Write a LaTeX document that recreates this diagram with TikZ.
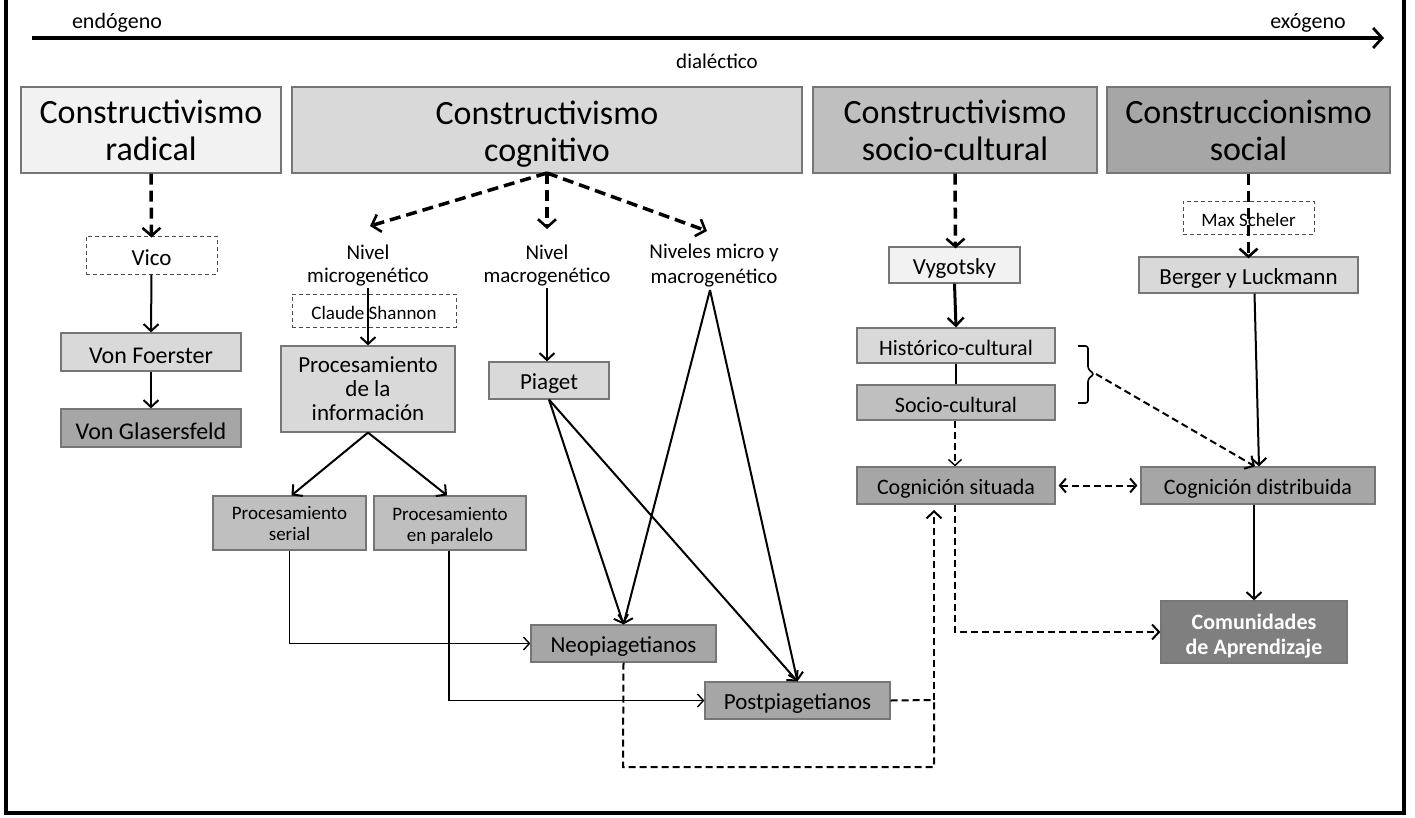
\documentclass[tikz,border=0pt]{standalone}
\usepackage{fontspec}
\setmainfont{Carlito}
\usetikzlibrary{arrows.meta}

\definecolor{fillA}{HTML}{F2F2F2}
\definecolor{fillB}{HTML}{D9D9D9}
\definecolor{fillC}{HTML}{BFBFBF}
\definecolor{fillD}{HTML}{A6A6A6}
\definecolor{fillE}{HTML}{7F7F7F}
\definecolor{edgegray}{HTML}{767676}

\newcommand{\fs}[2]{\fontsize{#1}{#2}\selectfont}
% invisible rule that centres a line optically on its letters
\newcommand{\vstr}{\vrule width 0pt height 0.96em depth 0.04em\relax}
\newcommand{\brk}{\\\vstr}

\tikzset{
  box/.style={draw=edgegray, line width=1.2pt, inner sep=0pt, align=center, text=black, execute at begin node=\vstr},
  ghost/.style={draw=black!70, line width=0.9pt, dash pattern=on 4pt off 3pt, inner sep=0pt, align=center, execute at begin node=\vstr},
  plain/.style={inner sep=0pt, align=center, execute at begin node=\vstr},
  inner/.style={inner sep=0pt, align=center, execute at begin node=\vstr},
  tip/.style={-{Straight Barb[length=7pt,width=15pt,line width=2pt]}},
  tipthin/.style={-{Straight Barb[length=6pt,width=13pt,line width=1.4pt]}},
  bigdash/.style={line width=3.5pt, dash pattern=on 11pt off 6pt, -{Straight Barb[length=8pt,width=18pt,line width=2.6pt]}},
  meddash/.style={line width=2pt, dash pattern=on 7pt off 4pt},
  solidarr/.style={line width=2pt, tip},
  thinarr/.style={line width=1.5pt, tipthin},
  head/.style={box, minimum height=86pt},
}

\begin{document}
\begin{tikzpicture}[x=1pt,y=-1pt]
\useasboundingbox (0,0) rectangle (1415,817);

% outer frame
\draw[line width=4pt] (6,-4) -- (6,813) -- (1404,813) -- (1404,-4);

% endogenous / exogenous axis
\node[plain, font=\fs{22}{24}] (endo) at (117,19.5) {endógeno};
\node[plain, font=\fs{22}{24}] (exo) at (1308,19.5) {exógeno};
\node[plain, font=\fs{21}{24}] (dial) at (717,58.5) {dialéctico};
\coordinate (axL) at (32,38);
\coordinate (axR) at (1384,38);
\draw[line width=3.5pt, -{Straight Barb[length=9pt,width=20pt,line width=2.8pt]}] (axL) -- (axR);

% four paradigms
\node[head, fill=fillA, minimum width=260pt, label={[inner, font=\fs{34}{37}, yshift=-1pt]center:{Constructivismo\brk radical\vstr}}] (rad) at (151,130) {};
\node[head, fill=fillB, minimum width=510pt, label={[inner, font=\fs{34}{37}, yshift=-4.5pt]center:{Constructivismo\brk cognitivo\vstr}}] (cog) at (547,130) {};
\node[head, fill=fillC, minimum width=284pt, label={[inner, font=\fs{34}{37}, yshift=-1pt]center:{Constructivismo\brk socio-cultural\vstr}}] (soc) at (955,130) {};
\node[head, fill=fillD, minimum width=283pt, label={[inner, font=\fs{34}{37}, yshift=-1pt]center:{Construccionismo\brk social\vstr}}] (cons) at (1248.5,130) {};

% radical column
\node[ghost, minimum width=131pt, minimum height=38pt, font=\fs{23}{25}] (vico) at (151.5,255) {Vico};
\node[box, fill=fillB, minimum width=180pt, minimum height=38pt, font=\fs{24}{26}] (foer) at (151,352) {Von Foerster};
\node[box, fill=fillD, minimum width=180pt, minimum height=38pt, font=\fs{24}{26}] (glas) at (151,428) {Von Glasersfeld};

% cognitive column
\node[plain, font=\fs{21}{23}] (micro) at (368,265.5) {Nivel\brk microgenético};
\node[plain, font=\fs{21}{23}] (macro) at (547,265.5) {Nivel\brk macrogenético};
\node[plain, font=\fs{21}{23}] (ambos) at (714,265.5) {Niveles micro y\brk macrogenético};
\node[ghost, minimum width=164pt, minimum height=33pt, font=\fs{19}{21}] (shannon) at (374,310.5) {Claude Shannon};
\node[box, fill=fillB, minimum width=174pt, minimum height=86pt, font=\fs{23}{24}] (pinfo) at (368,389) {Procesamiento\brk de la\brk información};
\node[box, fill=fillB, minimum width=120pt, minimum height=37pt, font=\fs{23}{25}] (piaget) at (549,380.5) {Piaget};
\node[box, fill=fillC, minimum width=153pt, minimum height=54pt, label={[inner, font=\fs{19}{21}, yshift=-1pt]center:{Procesamiento\brk serial\vstr}}] (serial) at (289.5,523) {};
\node[box, fill=fillC, minimum width=152pt, minimum height=54pt, label={[inner, font=\fs{19}{21}, yshift=-3pt]center:{Procesamiento\brk en paralelo\vstr}}] (paral) at (450,523) {};
\node[box, fill=fillD, minimum width=185pt, minimum height=37pt, font=\fs{23}{25}] (neo) at (623.5,643.5) {Neopiagetianos};
\node[box, fill=fillD, minimum width=185pt, minimum height=37pt, font=\fs{23}{25}] (post) at (797.5,700.5) {Postpiagetianos};

% socio-cultural column
\node[box, fill=fillA, minimum width=131pt, minimum height=36pt, font=\fs{23}{25}] (vyg) at (954.5,265) {Vygotsky};
\node[box, fill=fillB, minimum width=198pt, minimum height=35pt, font=\fs{22}{24}] (hist) at (956,345.5) {Histórico-cultural};
\node[box, fill=fillC, minimum width=198pt, minimum height=35pt, font=\fs{22}{24}] (sc) at (956,402.5) {Socio-cultural};
\node[box, fill=fillD, minimum width=198pt, minimum height=37pt, font=\fs{22}{24}] (sit) at (956,485.5) {Cognición situada};

% social constructionism column
\node[box, fill=fillB, minimum width=219pt, minimum height=36pt, font=\fs{23}{25}] (berger) at (1248.5,275) {Berger y Luckmann};
\node[box, fill=fillD, minimum width=234pt, minimum height=37pt, font=\fs{22}{24}] (dist) at (1258,485.5) {Cognición distribuida};
\node[box, fill=fillE, minimum width=186pt, minimum height=62pt, label={[inner, font=\bfseries\fs{22}{25}, text=white, yshift=-4.5pt]center:{Comunidades\brk de Aprendizaje\vstr}}] (comu) at (1254,632) {};

% helper points
\coordinate (cogS) at (547,173);
\coordinate (microTip) at (370,226);
\coordinate (macroTip) at (547,229);
\coordinate (ambosTip) at (707,231);
\coordinate (microFoot) at (368,288);
\coordinate (macroFoot) at (547,288);
\coordinate (ambosFoot) at (710,290);
\coordinate (neoLow) at (623,767);
\coordinate (joinLow) at (934,767);
\coordinate (postJoin) at (934,700);
\coordinate (sitUp) at (934,510);
\coordinate (braceTip) at (1096,374);

% thick dashed descents from the paradigms
\draw[bigdash] (rad.south) -- ([yshift=-2pt]vico.north);
\draw[bigdash] (cogS) -- (microTip);
\draw[bigdash] (cogS) -- (macroTip);
\draw[bigdash] (cogS) -- (ambosTip);
\draw[bigdash] (soc.south) -- ([xshift=1pt,yshift=-2pt]vyg.north);

% Max Scheler sits over the social-constructionism descent
\node[ghost, minimum width=131pt, minimum height=33pt, font=\fs{19}{21}] (scheler) at (1248.5,217.5) {Max Scheler};
\draw[bigdash] (cons.south) -- ([yshift=-2pt]berger.north);

% solid links
\draw[solidarr] (vico.south) -- (foer.north);
\draw[solidarr] (foer.south) -- (glas.north);
\draw[solidarr] (microFoot) -- (pinfo.north);
\draw[solidarr] (macroFoot) -- ([xshift=-2pt]piaget.north);
\draw[solidarr] (pinfo.south) -- ([xshift=2pt]serial.north);
\draw[solidarr] (pinfo.south) -- ([xshift=-3pt]paral.north);
\draw[solidarr] (piaget.south) -- (neo.north);
\draw[solidarr] (piaget.south) -- (post.north);
\draw[solidarr] (ambosFoot) -- (neo.north);
\draw[solidarr] (ambosFoot) -- (post.north);
\draw[thinarr] (serial.south) |- (neo.west);
\draw[thinarr] ([xshift=-1pt]paral.south) |- (post.west);

% Vygotsky chain
\draw[line width=3pt, -{Straight Barb[length=8pt,width=16pt,line width=2.4pt]}] (vyg.south) -- (hist.north);
\draw[line width=1.5pt] (hist.south) -- (sc.north);
\draw[meddash, line width=1.6pt, tipthin] ([xshift=-1pt]sc.south) -- ([xshift=-1pt]sit.north);

% neo- and post-Piagetians feed situated cognition
\draw[meddash] (neo.south) -- (neoLow) -- (joinLow) -- (postJoin);
\draw[meddash] (post.east) -- (postJoin);
\draw[meddash, tip] (postJoin) -- (sitUp);

% square brace grouping the two Vygotskian strands
\draw[line width=1.6pt, rounded corners=2.5pt]
  (1078,346) -- (1088,346) -- (1088,369) -- (1094,374) -- (1088,379) -- (1088,403) -- (1078,403);
\draw[meddash, tip] (braceTip) -- ([xshift=-3pt]dist.north);

% social-constructionism chain
\draw[solidarr] ([xshift=6pt]berger.south) -- ([xshift=1pt]dist.north);
\draw[meddash, {Straight Barb[length=6pt,width=14pt,line width=2pt]}-{Straight Barb[length=6pt,width=14pt,line width=2pt]}] ([xshift=3pt]sit.east) -- ([xshift=-3pt]dist.west);
\draw[solidarr] ([xshift=-4pt]dist.south) -- (comu.north);
\draw[meddash, tip] ([xshift=-1pt]sit.south) |- (comu.west);
\end{tikzpicture}
\end{document}
